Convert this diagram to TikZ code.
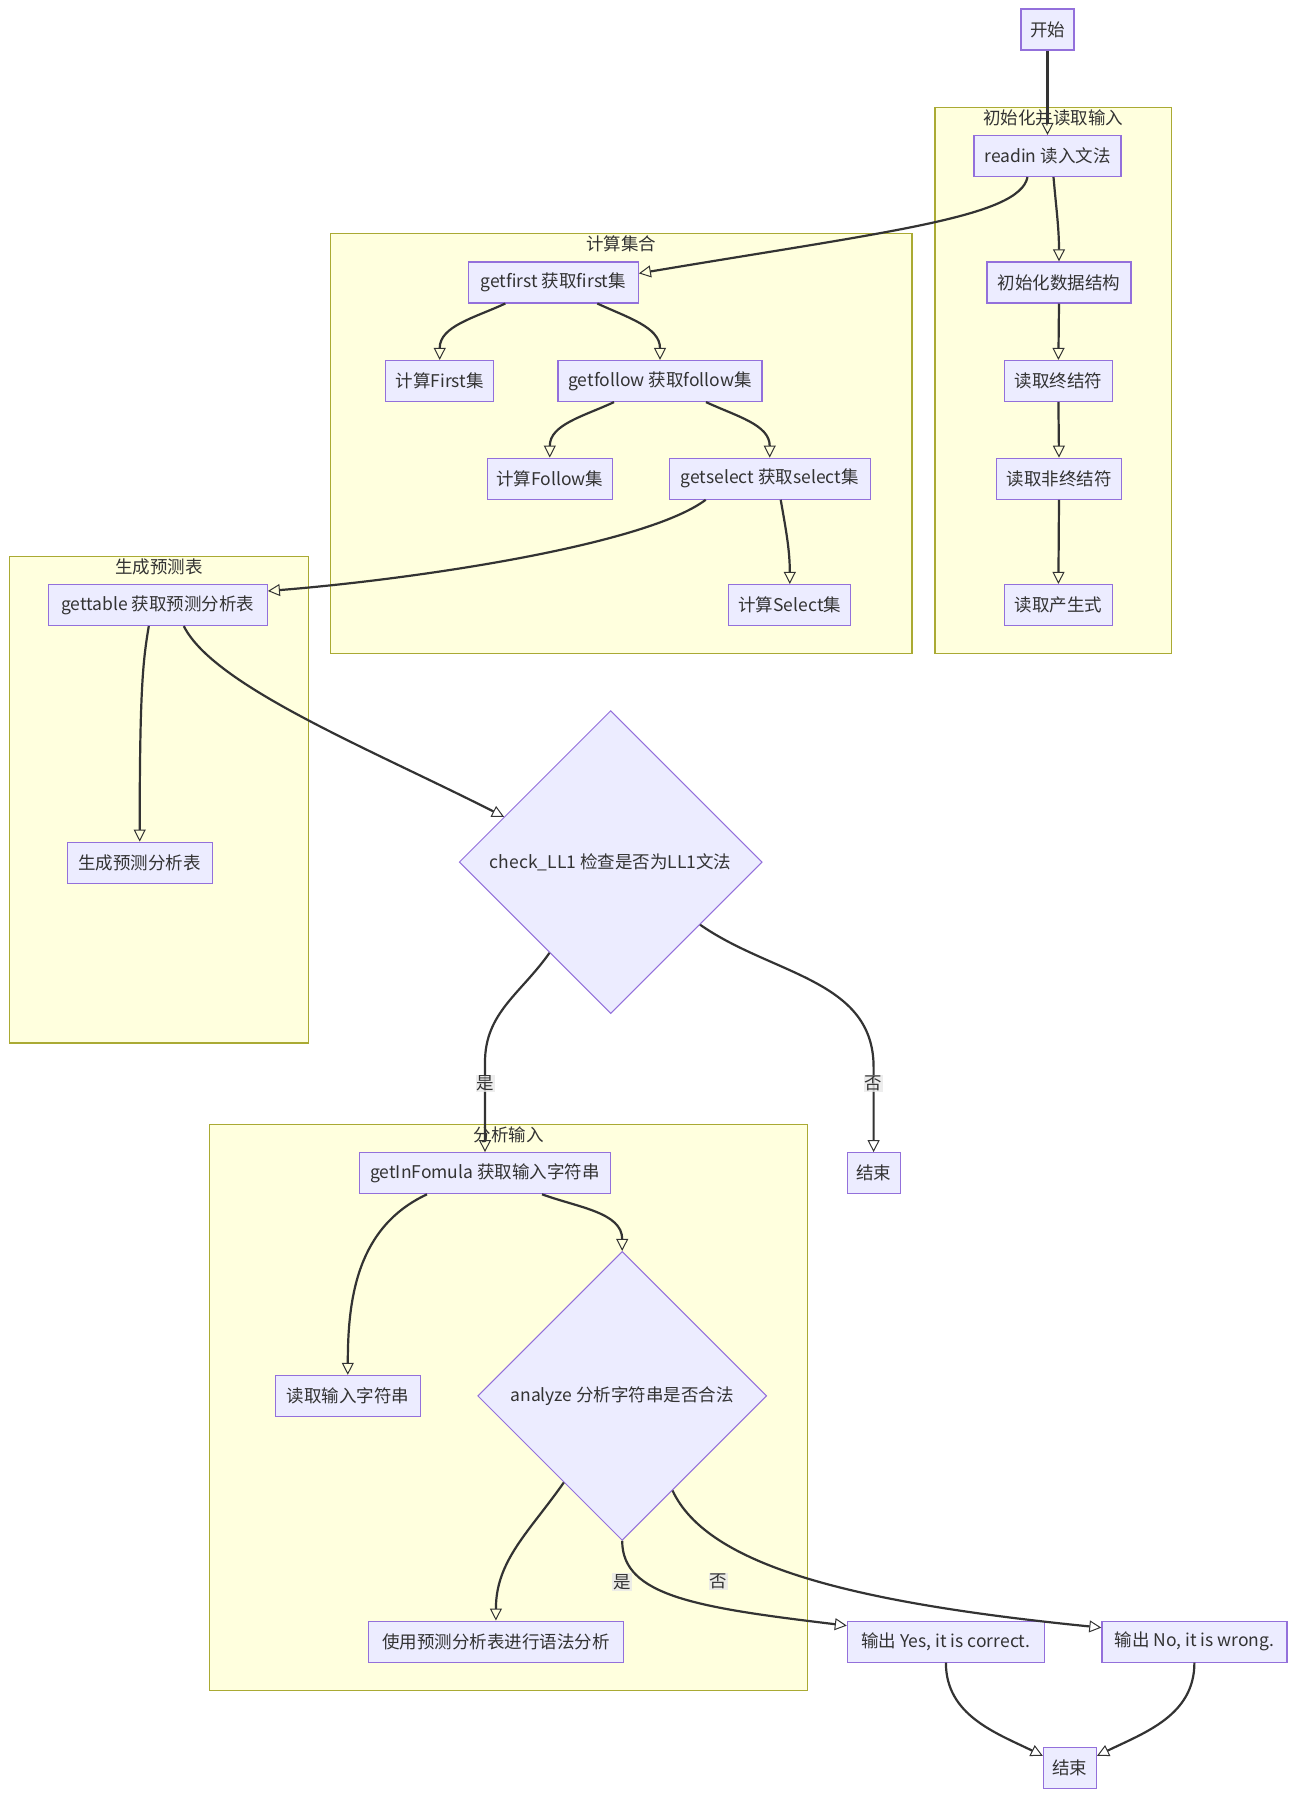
\documentclass[tikz,border=0pt]{standalone}
\usepackage{fontspec}
\setmainfont{Noto Sans CJK SC}
\usetikzlibrary{arrows.meta,shapes.geometric}
\definecolor{nodefill}{HTML}{ECECFF}
\definecolor{nodeline}{HTML}{9370DB}
\definecolor{grpfill}{HTML}{FFFFDE}
\definecolor{grpline}{HTML}{AAAA33}
\definecolor{inkgray}{HTML}{333333}
\definecolor{labfill}{HTML}{E8E8E8}
\newcommand{\nfont}{\fontsize{17.5}{21}\selectfont}
\tikzset{
  box/.style  = {rectangle, draw=nodeline, fill=nodefill, line width=1.2pt,
                 minimum height=41pt, inner xsep=9pt, inner ysep=2pt,
                 font=\nfont, text=inkgray},
  dec/.style  = {diamond, aspect=1, draw=nodeline, fill=nodefill, line width=1pt,
                 inner sep=1pt, font=\nfont, text=inkgray},
  ar/.style   = {-{Triangle[open, length=12pt, width=12pt, line width=1pt]},
                 draw=inkgray, line width=2.2pt}
}

\begin{document}
\begin{tikzpicture}[
    x=1pt, y=1pt,
    grp/.style={rectangle, draw=grpline, fill=grpfill, line width=1.2pt,
                anchor=north west, inner sep=0pt},
    grptitle/.style={font=\nfont, text=inkgray, anchor=north, inner sep=0pt},
    lab/.style={font=\nfont, text=inkgray, fill=labfill, fill opacity=0.8,
                text opacity=1, inner sep=1pt}
  ]
  \path[use as bounding box] (0,0) rectangle (1296,-1800);

  % ===================== 子图：四个分组 =====================
  \node[grp, minimum width=236.5pt, minimum height=546.4pt] (grpInit)  at (934.4,-106.8) {};
  \node[grp, minimum width=581.9pt, minimum height=420.2pt] (grpSet)   at (329.5,-233) {};
  \node[grp, minimum width=298.4pt, minimum height=486.7pt] (grpTable) at (9.2,-555.6) {};
  \node[grp, minimum width=598.1pt, minimum height=565.9pt] (grpInput) at (208.9,-1123.8) {};
  \node[grptitle] (tInit)  at ([yshift=-3pt]grpInit.north)  {初始化并读取输入};
  \node[grptitle] (tSet)   at ([yshift=-3pt]grpSet.north)   {计算集合};
  \node[grptitle] (tTable) at ([yshift=-3pt]grpTable.north) {生成预测表};
  \node[grptitle] (tInput) at ([yshift=-3pt]grpInput.north) {分析输入};

  % ===================== 初始化并读取输入 =====================
  \node[box, minimum width=53pt]  (start)   at (1047.5,-29.5) {开始};
  \node[box, minimum width=147pt] (readin)  at (1047.5,-156)  {readin 读入文法};
  \node[box, minimum width=144pt] (init)    at (1059,-282.4)  {初始化数据结构};
  \node[box, minimum width=108pt] (term)    at (1058.4,-381)  {读取终结符};
  \node[box, minimum width=125pt] (nonterm) at (1059,-478.7)  {读取非终结符};
  \node[box, minimum width=108pt] (prod)    at (1058.4,-605)  {读取产生式};

  % ===================== 计算集合 =====================
  \node[box, minimum width=170pt] (getfirst)  at (553.3,-282.4) {getfirst 获取first集};
  \node[box, minimum width=108pt] (first)     at (439.7,-381)   {计算First集};
  \node[box, minimum width=204pt] (getfollow) at (660,-381)     {getfollow 获取follow集};
  \node[box, minimum width=124pt] (follow)    at (549.8,-478.7) {计算Follow集};
  \node[box, minimum width=201pt] (getselect) at (769.7,-478.7) {getselect 获取select集};
  \node[box, minimum width=122pt] (select)    at (789.8,-605)   {计算Select集};

  % ===================== 生成预测表 =====================
  \node[box, minimum width=219pt] (gettable) at (157.8,-605)   {gettable 获取预测分析表};
  \node[box, minimum width=145pt] (table)    at (139.7,-862.7) {生成预测分析表};
  \node[dec, minimum width=303pt, minimum height=303pt] (check) at (610.7,-862.1)
       {check\_LL1 检查是否为LL1文法};
  \node[box, minimum width=53pt] (end1) at (873.6,-1173.2) {结束};

  % ===================== 分析输入 =====================
  \node[box, minimum width=251pt] (getin)   at (485,-1173.2)   {getInFomula 获取输入字符串};
  \node[box, minimum width=145pt] (readstr) at (347.8,-1395.9) {读取输入字符串};
  \node[dec, minimum width=289pt, minimum height=289pt] (analyze) at (622.2,-1395.9)
       {analyze 分析字符串是否合法};
  \node[box, minimum width=255pt] (parse) at (495.9,-1641.6) {使用预测分析表进行语法分析};
  \node[box, minimum width=197pt] (yes)   at (945.9,-1641.6) {输出 Yes, it is correct.};
  \node[box, minimum width=185pt] (no)    at (1194.4,-1641.6) {输出 No, it is wrong.};
  \node[box, minimum width=53pt]  (end2)  at (1069.9,-1767.8) {结束};

  % ===================== 箭头 =====================
  \draw[ar] (start.south) -- (readin.north);
  \draw[ar] ([xshift=-20pt]readin.south) .. controls +(-8,-40) and +(250,42) .. ([yshift=9pt]getfirst.east);
  \draw[ar] ([xshift=6pt]readin.south) to[out=-85, in=90] (init.north);
  \draw[ar] (init.south) -- (term.north);
  \draw[ar] (term.south) -- (nonterm.north);
  \draw[ar] (nonterm.south) -- (prod.north);

  \draw[ar] ([xshift=-48pt]getfirst.south) to[out=-155, in=90] (first.north);
  \draw[ar] ([xshift=44pt]getfirst.south) to[out=-25, in=90] (getfollow.north);
  \draw[ar] ([xshift=-46pt]getfollow.south) to[out=-155, in=90] (follow.north);
  \draw[ar] ([xshift=46pt]getfollow.south) to[out=-25, in=90] (getselect.north);
  \draw[ar] ([xshift=11pt]getselect.south) to[out=-80, in=90] (select.north);
  \draw[ar] ([xshift=-64pt]getselect.south) .. controls +(-60,-45) and +(150,12) .. ([yshift=14pt]gettable.east);

  \draw[ar] ([xshift=-9pt]gettable.south) .. controls +(-6,-35) and +(0,150) .. (table.north);
  \draw[ar] ([xshift=26pt]gettable.south) .. controls +(30,-60) and +(-134,68) .. (check.157);

  \draw[ar] (check.236) to[out=-125, in=90] ([yshift=90pt]getin.north) -- (getin.north);
  \draw[ar] (check.-35) to[out=-35, in=90] ([yshift=85pt]end1.north) -- (end1.north);

  \draw[ar] ([xshift=-58pt]getin.south) to[out=-155, in=90] (readstr.north);
  \draw[ar] ([xshift=57pt]getin.south) to[out=-20, in=90] (analyze.north);
  \draw[ar] (analyze.236) to[out=-125, in=90] (parse.north);
  \draw[ar] (analyze.south) .. controls +(0,-55) and +(-150,18) .. ([yshift=16pt]yes.west);
  \draw[ar] (analyze.-62) .. controls +(35,-75) and +(-250,25) .. ([yshift=14pt]no.west);

  \draw[ar] (yes.south) to[out=-90, in=154] ([yshift=12pt]end2.west);
  \draw[ar] (no.south) to[out=-90, in=26] ([yshift=12pt]end2.east);

  % ===================== 分支标签 =====================
  \node[lab] (yesLab1) at (485.6,-1083.6) {是};
  \node[lab] (noLab1)  at (873.6,-1083.6) {否};
  \node[lab] (yesLab2) at (622.2,-1581.8) {是};
  \node[lab] (noLab2)  at (718.6,-1581.8) {否};
\end{tikzpicture}
\end{document}
